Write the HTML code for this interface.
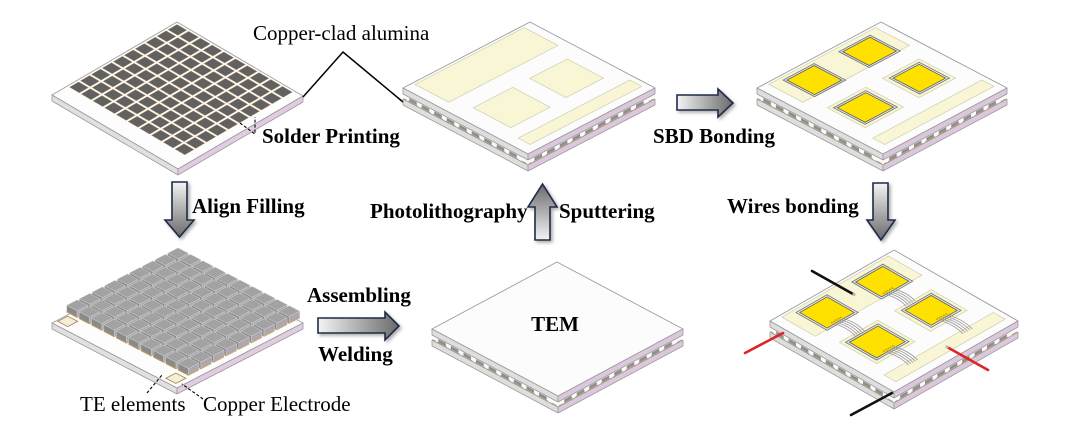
<!DOCTYPE html>
<html><head><meta charset="utf-8"><style>
html,body{margin:0;padding:0;background:#fff;}
svg{display:block;}
text{font-family:"Liberation Serif","Times New Roman",serif;fill:#000;font-size:21px;}
.b{font-weight:bold;}
</style></head><body>
<svg width="1069" height="437" viewBox="0 0 1069 437" xmlns="http://www.w3.org/2000/svg" xmlns:xlink="http://www.w3.org/1999/xlink">
<defs>
 <linearGradient id="gD" x1="0" y1="0" x2="0" y2="1"><stop offset="0" stop-color="#f4f4f4"/><stop offset="1" stop-color="#6a6a6a"/></linearGradient>
 <linearGradient id="gU" x1="0" y1="1" x2="0" y2="0"><stop offset="0" stop-color="#f4f4f4"/><stop offset="1" stop-color="#6a6a6a"/></linearGradient>
 <linearGradient id="gR" x1="0" y1="0" x2="1" y2="0"><stop offset="0" stop-color="#f4f4f4"/><stop offset="1" stop-color="#6a6a6a"/></linearGradient>
 <filter id="sh" x="-40%" y="-40%" width="180%" height="180%"><feDropShadow dx="2" dy="2" stdDeviation="1.5" flood-color="#777" flood-opacity="0.6"/></filter>
 <pattern id="solder" patternUnits="userSpaceOnUse" x="1.5" y="1.5" width="9.3" height="8.75"><rect x="0.2" y="0.2" width="7.6" height="7.1" fill="#616161" stroke="#9a7a4a" stroke-width="0.35"/></pattern>

 <g id="blocks">
  <rect x="5" y="6.8" width="6" height="3.2" fill="#8e8e8e"/><rect x="4" y="10" width="8" height="0.9" fill="#c29a50"/>
  <rect x="15" y="6.8" width="6" height="3.2" fill="#8e8e8e"/><rect x="14" y="10" width="8" height="0.9" fill="#c29a50"/>
  <rect x="25" y="6.8" width="6" height="3.2" fill="#8e8e8e"/><rect x="24" y="10" width="8" height="0.9" fill="#c29a50"/>
  <rect x="35" y="6.8" width="6" height="3.2" fill="#8e8e8e"/><rect x="34" y="10" width="8" height="0.9" fill="#c29a50"/>
  <rect x="45" y="6.8" width="6" height="3.2" fill="#8e8e8e"/><rect x="44" y="10" width="8" height="0.9" fill="#c29a50"/>
  <rect x="55" y="6.8" width="6" height="3.2" fill="#8e8e8e"/><rect x="54" y="10" width="8" height="0.9" fill="#c29a50"/>
  <rect x="65" y="6.8" width="6" height="3.2" fill="#8e8e8e"/><rect x="64" y="10" width="8" height="0.9" fill="#c29a50"/>
  <rect x="75" y="6.8" width="6" height="3.2" fill="#8e8e8e"/><rect x="74" y="10" width="8" height="0.9" fill="#c29a50"/>
  <rect x="85" y="6.8" width="6" height="3.2" fill="#8e8e8e"/><rect x="84" y="10" width="8" height="0.9" fill="#c29a50"/>
  <rect x="0.5" y="9.8" width="2.5" height="1" fill="#c29a50"/><rect x="95" y="9.8" width="4" height="1" fill="#c29a50"/>
 </g>

 <g id="dside">
  <rect width="100" height="6"/>
  <rect y="11" width="100" height="6"/>
  <rect y="6" width="100" height="5" fill="#fbfbfb"/>
  <use href="#blocks" xlink:href="#blocks"/>
  <path d="M0 0H100M0 6H100M0 11H100M0 17H100M0 0V6M100 0V6M0 11V17M100 11V17" stroke="#9a9a9a" stroke-width="0.8" vector-effect="non-scaling-stroke" fill="none"/>
 </g>
 <g id="sside">
  <rect width="100" height="6"/>
  <path d="M0 0H100M0 6H100M0 0V6M100 0V6" stroke="#9a9a9a" stroke-width="0.8" vector-effect="non-scaling-stroke" fill="none"/>
 </g>

 <g id="face">
  <rect width="100" height="100" fill="#fcfcfc" stroke="#9c9c9c" stroke-width="0.9" vector-effect="non-scaling-stroke"/>
 </g>
 <g id="pads" fill="#f8f6d4" stroke="#cfcdb0" stroke-width="0.7">
  <rect x="2" y="6.5" width="27" height="86" vector-effect="non-scaling-stroke"/>
  <rect x="43" y="13" width="29" height="29.5" vector-effect="non-scaling-stroke"/>
  <rect x="43" y="56" width="30" height="31" vector-effect="non-scaling-stroke"/>
  <rect x="84" y="4" width="9.5" height="88" vector-effect="non-scaling-stroke"/>
 </g>
 <g id="chips">
  <g fill="#f4f4f4" stroke="#777" stroke-width="0.9">
   <rect x="5.5" y="14.5" width="24" height="25" vector-effect="non-scaling-stroke"/>
   <rect x="4.5" y="58.5" width="25" height="25" vector-effect="non-scaling-stroke"/>
   <rect x="45.5" y="15.5" width="24" height="24" vector-effect="non-scaling-stroke"/>
   <rect x="45.5" y="58.5" width="25" height="26" vector-effect="non-scaling-stroke"/>
  </g>
  <g fill="#ffe100" stroke="#666" stroke-width="0.9">
   <rect x="7" y="16" width="21" height="22" vector-effect="non-scaling-stroke"/>
   <rect x="6" y="60" width="22" height="22" vector-effect="non-scaling-stroke"/>
   <rect x="47" y="17" width="21" height="21" vector-effect="non-scaling-stroke"/>
   <rect x="47" y="60" width="22" height="23" vector-effect="non-scaling-stroke"/>
  </g>
 </g>

 <g id="cube" stroke="#d2d2d2" stroke-width="0.5">
  <polygon points="0,8.3 8.3,8.3 2.81,2.85 -5.49,2.85" fill="#8a8a8a" vector-effect="non-scaling-stroke"/>
  <polygon points="8.3,0 8.3,8.3 2.81,2.85 2.81,-5.45" fill="#aea6b2" vector-effect="non-scaling-stroke"/>
  <polygon points="0,8.3 8.3,8.3 7.36,7.36 -0.94,7.36" fill="#b8965a" stroke="none"/>
  <polygon points="8.3,0 8.3,8.3 7.36,7.36 7.36,-0.94" fill="#c9a96e" stroke="none"/>
  <polygon points="-5.49,-5.45 2.81,-5.45 2.81,2.85 -5.49,2.85" fill="#a2a2a2" vector-effect="non-scaling-stroke"/>
 </g>
</defs>

<rect width="1069" height="437" fill="#fff"/>

<!-- Board A: solder printing -->
<g transform="matrix(1.26,0.74,-1.25,0.73,177,22)">
 <rect width="100" height="100" fill="#fdfdfd" stroke="#a0a0a0" stroke-width="0.9" vector-effect="non-scaling-stroke"/>
 <rect x="1.5" y="1.5" width="92" height="86.4" fill="url(#solder)"/>
</g>
<g transform="matrix(1.26,0.74,0,1,52,95)"><use href="#sside" xlink:href="#sside" fill="#e0e0e0"/></g>
<g transform="matrix(1.25,-0.73,0,1,178,169)"><use href="#sside" xlink:href="#sside" fill="#e2cce2"/></g>

<!-- Board C: sputtering pads -->
<g transform="matrix(1.25,0.66,-1.27,0.66,530,22)">
 <use href="#face" xlink:href="#face"/>
 <use href="#pads" xlink:href="#pads"/>
</g>
<g transform="matrix(1.25,0.66,0,1,403,88)"><use href="#dside" xlink:href="#dside" fill="#dedede"/></g>
<g transform="matrix(1.27,-0.66,0,1,528,154)"><use href="#dside" xlink:href="#dside" fill="#dcc8dc"/></g>

<!-- Board D: SBD bonding -->
<g transform="matrix(1.26,0.66,-1.24,0.66,881,22)">
 <use href="#face" xlink:href="#face"/>
 <use href="#pads" xlink:href="#pads"/>
 <use href="#chips" xlink:href="#chips"/>
</g>
<g transform="matrix(1.26,0.66,0,1,757,88)"><use href="#dside" xlink:href="#dside" fill="#dedede"/></g>
<g transform="matrix(1.24,-0.66,0,1,883,154)"><use href="#dside" xlink:href="#dside" fill="#dcc8dc"/></g>

<!-- Board F: TEM -->
<g transform="matrix(1.26,0.67,-1.25,0.67,557,262)">
 <use href="#face" xlink:href="#face"/>
</g>
<g transform="matrix(1.26,0.67,0,1,432,329)"><use href="#dside" xlink:href="#dside" fill="#dedede"/></g>
<g transform="matrix(1.25,-0.67,0,1,558,396)"><use href="#dside" xlink:href="#dside" fill="#dcc8dc"/></g>
<text class="b" x="555" y="331" text-anchor="middle">TEM</text>

<!-- Board E: wire bonding -->
<g transform="matrix(1.24,0.71,-1.24,0.71,894,250)">
 <use href="#face" xlink:href="#face"/>
 <use href="#pads" xlink:href="#pads"/>
 <use href="#chips" xlink:href="#chips"/>
 <g fill="none" stroke="#9a9a9a" stroke-width="0.8">
  <path d="M27 27.5Q36 24.5 44.5 27.5" vector-effect="non-scaling-stroke"/>
  <path d="M27 29.3Q36 26.3 44.5 29.3" vector-effect="non-scaling-stroke"/>
  <path d="M27 31.1Q36 28.1 44.5 31.1" vector-effect="non-scaling-stroke"/>
  <path d="M27 32.9Q36 29.9 44.5 32.9" vector-effect="non-scaling-stroke"/>
  <path d="M27 34.7Q36 31.7 44.5 34.7" vector-effect="non-scaling-stroke"/>
  <path d="M27 69Q36 66 45 69" vector-effect="non-scaling-stroke"/>
  <path d="M27 70.8Q36 67.8 45 70.8" vector-effect="non-scaling-stroke"/>
  <path d="M27 72.6Q36 69.6 45 72.6" vector-effect="non-scaling-stroke"/>
  <path d="M27 74.4Q36 71.4 45 74.4" vector-effect="non-scaling-stroke"/>
  <path d="M27 76.2Q36 73.2 45 76.2" vector-effect="non-scaling-stroke"/>
  <path d="M67 24Q77 21 87 24" vector-effect="non-scaling-stroke"/>
  <path d="M67 25.8Q77 22.8 87 25.8" vector-effect="non-scaling-stroke"/>
  <path d="M67 27.6Q77 24.6 87 27.6" vector-effect="non-scaling-stroke"/>
  <path d="M67 29.4Q77 26.4 87 29.4" vector-effect="non-scaling-stroke"/>
  <path d="M67 31.2Q77 28.2 87 31.2" vector-effect="non-scaling-stroke"/>
  <path d="M68 68Q77 65 87 68" vector-effect="non-scaling-stroke"/>
  <path d="M68 69.8Q77 66.8 87 69.8" vector-effect="non-scaling-stroke"/>
  <path d="M68 71.6Q77 68.6 87 71.6" vector-effect="non-scaling-stroke"/>
  <path d="M68 73.4Q77 70.4 87 73.4" vector-effect="non-scaling-stroke"/>
  <path d="M68 75.2Q77 72.2 87 75.2" vector-effect="non-scaling-stroke"/>
 </g>
 <g stroke="#b08a00" stroke-width="1" stroke-dasharray="1 0.8">
  <line x1="26" y1="27" x2="26" y2="35.5"/>
  <line x1="26" y1="68.5" x2="26" y2="77"/>
  <line x1="66" y1="23.5" x2="66" y2="32"/>
  <line x1="67" y1="67.5" x2="67" y2="76"/>
 </g>
</g>
<g transform="matrix(1.24,0.71,0,1,770,321)"><use href="#dside" xlink:href="#dside" fill="#dedede"/></g>
<g transform="matrix(1.24,-0.71,0,1,894,392)"><use href="#dside" xlink:href="#dside" fill="#dcc8dc"/></g>
<g stroke-linecap="round" stroke-width="2.6">
 <line x1="812" y1="271" x2="853" y2="294" stroke="#111"/>
 <line x1="745" y1="353" x2="783" y2="333" stroke="#e02424"/>
 <line x1="947" y1="347" x2="988" y2="370" stroke="#e02424"/>
 <line x1="851" y1="415" x2="892" y2="393" stroke="#111"/>
</g>
<circle cx="854" cy="294.5" r="1.6" fill="#bbb"/>
<circle cx="947" cy="347" r="1.6" fill="#bbb"/>

<!-- Board G: TE elements -->
<g transform="matrix(1.25,0.65,-1.26,0.65,178,258)">
 <rect width="100" height="100" fill="#fdfdfd" stroke="#a0a0a0" stroke-width="0.9" vector-effect="non-scaling-stroke"/>
 <g fill="#f3eed5" stroke="#a0804a" stroke-width="0.8">
  <rect x="1" y="88.5" width="8" height="8" vector-effect="non-scaling-stroke"/>
  <rect x="88" y="89" width="8" height="8" vector-effect="non-scaling-stroke"/>
 </g>
 <use href="#cube" xlink:href="#cube" x="-2.3" y="-2.3"/><use href="#cube" xlink:href="#cube" x="-2.3" y="7.7"/><use href="#cube" xlink:href="#cube" x="-2.3" y="17.7"/><use href="#cube" xlink:href="#cube" x="-2.3" y="27.7"/><use href="#cube" xlink:href="#cube" x="-2.3" y="37.7"/><use href="#cube" xlink:href="#cube" x="-2.3" y="47.7"/><use href="#cube" xlink:href="#cube" x="-2.3" y="57.7"/><use href="#cube" xlink:href="#cube" x="-2.3" y="67.7"/><use href="#cube" xlink:href="#cube" x="-2.3" y="77.7"/>
 <use href="#cube" xlink:href="#cube" x="7.59" y="-2.3"/><use href="#cube" xlink:href="#cube" x="7.59" y="7.7"/><use href="#cube" xlink:href="#cube" x="7.59" y="17.7"/><use href="#cube" xlink:href="#cube" x="7.59" y="27.7"/><use href="#cube" xlink:href="#cube" x="7.59" y="37.7"/><use href="#cube" xlink:href="#cube" x="7.59" y="47.7"/><use href="#cube" xlink:href="#cube" x="7.59" y="57.7"/><use href="#cube" xlink:href="#cube" x="7.59" y="67.7"/><use href="#cube" xlink:href="#cube" x="7.59" y="77.7"/>
 <use href="#cube" xlink:href="#cube" x="17.48" y="-2.3"/><use href="#cube" xlink:href="#cube" x="17.48" y="7.7"/><use href="#cube" xlink:href="#cube" x="17.48" y="17.7"/><use href="#cube" xlink:href="#cube" x="17.48" y="27.7"/><use href="#cube" xlink:href="#cube" x="17.48" y="37.7"/><use href="#cube" xlink:href="#cube" x="17.48" y="47.7"/><use href="#cube" xlink:href="#cube" x="17.48" y="57.7"/><use href="#cube" xlink:href="#cube" x="17.48" y="67.7"/><use href="#cube" xlink:href="#cube" x="17.48" y="77.7"/>
 <use href="#cube" xlink:href="#cube" x="27.37" y="-2.3"/><use href="#cube" xlink:href="#cube" x="27.37" y="7.7"/><use href="#cube" xlink:href="#cube" x="27.37" y="17.7"/><use href="#cube" xlink:href="#cube" x="27.37" y="27.7"/><use href="#cube" xlink:href="#cube" x="27.37" y="37.7"/><use href="#cube" xlink:href="#cube" x="27.37" y="47.7"/><use href="#cube" xlink:href="#cube" x="27.37" y="57.7"/><use href="#cube" xlink:href="#cube" x="27.37" y="67.7"/><use href="#cube" xlink:href="#cube" x="27.37" y="77.7"/>
 <use href="#cube" xlink:href="#cube" x="37.26" y="-2.3"/><use href="#cube" xlink:href="#cube" x="37.26" y="7.7"/><use href="#cube" xlink:href="#cube" x="37.26" y="17.7"/><use href="#cube" xlink:href="#cube" x="37.26" y="27.7"/><use href="#cube" xlink:href="#cube" x="37.26" y="37.7"/><use href="#cube" xlink:href="#cube" x="37.26" y="47.7"/><use href="#cube" xlink:href="#cube" x="37.26" y="57.7"/><use href="#cube" xlink:href="#cube" x="37.26" y="67.7"/><use href="#cube" xlink:href="#cube" x="37.26" y="77.7"/>
 <use href="#cube" xlink:href="#cube" x="47.15" y="-2.3"/><use href="#cube" xlink:href="#cube" x="47.15" y="7.7"/><use href="#cube" xlink:href="#cube" x="47.15" y="17.7"/><use href="#cube" xlink:href="#cube" x="47.15" y="27.7"/><use href="#cube" xlink:href="#cube" x="47.15" y="37.7"/><use href="#cube" xlink:href="#cube" x="47.15" y="47.7"/><use href="#cube" xlink:href="#cube" x="47.15" y="57.7"/><use href="#cube" xlink:href="#cube" x="47.15" y="67.7"/><use href="#cube" xlink:href="#cube" x="47.15" y="77.7"/>
 <use href="#cube" xlink:href="#cube" x="57.04" y="-2.3"/><use href="#cube" xlink:href="#cube" x="57.04" y="7.7"/><use href="#cube" xlink:href="#cube" x="57.04" y="17.7"/><use href="#cube" xlink:href="#cube" x="57.04" y="27.7"/><use href="#cube" xlink:href="#cube" x="57.04" y="37.7"/><use href="#cube" xlink:href="#cube" x="57.04" y="47.7"/><use href="#cube" xlink:href="#cube" x="57.04" y="57.7"/><use href="#cube" xlink:href="#cube" x="57.04" y="67.7"/><use href="#cube" xlink:href="#cube" x="57.04" y="77.7"/>
 <use href="#cube" xlink:href="#cube" x="66.93" y="-2.3"/><use href="#cube" xlink:href="#cube" x="66.93" y="7.7"/><use href="#cube" xlink:href="#cube" x="66.93" y="17.7"/><use href="#cube" xlink:href="#cube" x="66.93" y="27.7"/><use href="#cube" xlink:href="#cube" x="66.93" y="37.7"/><use href="#cube" xlink:href="#cube" x="66.93" y="47.7"/><use href="#cube" xlink:href="#cube" x="66.93" y="57.7"/><use href="#cube" xlink:href="#cube" x="66.93" y="67.7"/><use href="#cube" xlink:href="#cube" x="66.93" y="77.7"/>
 <use href="#cube" xlink:href="#cube" x="76.82" y="-2.3"/><use href="#cube" xlink:href="#cube" x="76.82" y="7.7"/><use href="#cube" xlink:href="#cube" x="76.82" y="17.7"/><use href="#cube" xlink:href="#cube" x="76.82" y="27.7"/><use href="#cube" xlink:href="#cube" x="76.82" y="37.7"/><use href="#cube" xlink:href="#cube" x="76.82" y="47.7"/><use href="#cube" xlink:href="#cube" x="76.82" y="57.7"/><use href="#cube" xlink:href="#cube" x="76.82" y="67.7"/><use href="#cube" xlink:href="#cube" x="76.82" y="77.7"/>
 <use href="#cube" xlink:href="#cube" x="86.71" y="-2.3"/><use href="#cube" xlink:href="#cube" x="86.71" y="7.7"/><use href="#cube" xlink:href="#cube" x="86.71" y="17.7"/><use href="#cube" xlink:href="#cube" x="86.71" y="27.7"/><use href="#cube" xlink:href="#cube" x="86.71" y="37.7"/><use href="#cube" xlink:href="#cube" x="86.71" y="47.7"/><use href="#cube" xlink:href="#cube" x="86.71" y="57.7"/><use href="#cube" xlink:href="#cube" x="86.71" y="67.7"/><use href="#cube" xlink:href="#cube" x="86.71" y="77.7"/>
</g>
<g transform="matrix(1.25,0.65,0,1,52,323)"><use href="#sside" xlink:href="#sside" fill="#e0e0e0"/></g>
<g transform="matrix(1.26,-0.65,0,1,177,388)"><use href="#sside" xlink:href="#sside" fill="#e2cce2"/></g>

<!-- Arrows -->
<g stroke="#1f2b4a" stroke-width="1.6" stroke-linejoin="miter" filter="url(#sh)">
 <polygon points="172,182 187,182 187,220 194,220 179.5,237 165,220 172,220" fill="url(#gD)"/>
 <polygon points="318,318 385,318 385,312 399,326 385,340 385,333 318,333" fill="url(#gR)"/>
 <polygon points="535,240 550,240 550,207 557,207 542.5,184 528,207 535,207" fill="url(#gU)"/>
 <polygon points="677,95 718,95 718,89 733,103 718,117 718,110 677,110" fill="url(#gR)"/>
 <polygon points="873,183 888,183 888,220 895,220 881,240 867,220 873,220" fill="url(#gD)"/>
</g>

<!-- Leader lines -->
<g fill="none" stroke="#000">
 <polyline points="303,97 343,52 403,102" stroke-width="1.5"/>
 <g stroke-width="1.1" stroke-dasharray="3 2">
  <polyline points="240,123 255,134 255,117"/>
  <line x1="147" y1="393" x2="162" y2="375"/>
  <line x1="203" y1="399" x2="182" y2="384"/>
 </g>
</g>

<!-- Labels -->
<text x="253" y="40">Copper-clad alumina</text>
<text class="b" x="262" y="143">Solder Printing</text>
<text class="b" x="653" y="143">SBD Bonding</text>
<text class="b" x="192" y="213">Align Filling</text>
<text class="b" x="370" y="218">Photolithography</text>
<text class="b" x="559" y="218">Sputtering</text>
<text class="b" x="727" y="213">Wires bonding</text>
<text class="b" x="307" y="302">Assembling</text>
<text class="b" x="318" y="361">Welding</text>
<text x="80" y="411">TE elements</text>
<text x="203" y="411">Copper Electrode</text>
</svg>
</body></html>
